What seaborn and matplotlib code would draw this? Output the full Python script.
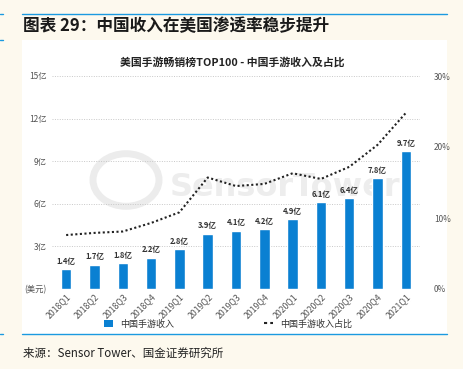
import numpy as np
import pandas as pd
import matplotlib
matplotlib.use("Agg")
import matplotlib.pyplot as plt
import seaborn as sns
from matplotlib.patches import Rectangle, Circle
from matplotlib.lines import Line2D

# -----------------------------
# DATA
# -----------------------------
quarters = ["2018Q1", "2018Q2", "2018Q3", "2018Q4", "2019Q1", "2019Q2", "2019Q3",
            "2019Q4", "2020Q1", "2020Q2", "2020Q3", "2020Q4", "2021Q1"]
revenue = [1.4, 1.7, 1.8, 2.2, 2.8, 3.9, 4.1, 4.2, 4.9, 6.1, 6.4, 7.8, 9.7]   # 亿美元
share = [7.6, 7.9, 8.1, 9.3, 10.8, 15.7, 14.5, 14.8, 16.3, 15.5, 17.2, 20.3, 24.8]  # %
left_ticks = [0, 3, 6, 9, 12, 15]
left_labels = ["(美元)", "3亿", "6亿", "9亿", "12亿", "15亿"]
right_ticks = [0, 10, 20, 30]

df = pd.DataFrame({"quarter": quarters, "revenue": revenue, "share": share})

# -----------------------------
# STYLE
# -----------------------------
sns.set_theme(style="white")
plt.rcParams["font.family"] = ["Noto Sans CJK SC", "DejaVu Sans"]

BG = "#fdf9ee"
BLUE = "#0a80d2"
LINE_BLUE = "#1b9ae0"

fig = plt.figure(figsize=(4.63, 3.69), dpi=100, facecolor=BG)

# white panel behind the chart
panel = Rectangle((22 / 463, 1 - 334 / 369), 425 / 463, 294 / 369,
                  transform=fig.transFigure, facecolor="white",
                  edgecolor="none", zorder=-5)
fig.patches.append(panel)
# blue rules
for y, x0, x1 in [(14, 22, 447), (14, 0, 3), (40, 0, 3), (334, 22, 447), (334, 0, 3)]:
    fig.add_artist(Line2D([x0 / 463, x1 / 463], [1 - y / 369, 1 - y / 369],
                          transform=fig.transFigure, color=LINE_BLUE, lw=1.0))

fig.text(23 / 463, 1 - 26 / 369, "图表 29：中国收入在美国渗透率稳步提升",
         fontsize=12, fontweight="bold", color="#1a1a1a",
         va="center", ha="left")
fig.text(23 / 463, 1 - 353 / 369, "来源：Sensor Tower、国金证券研究所",
         fontsize=8.3, color="#222222", va="center", ha="left")

ax = fig.add_axes([52 / 463, 1 - 289 / 369, 368 / 463, 213 / 369])
ax.set_facecolor("none")

# watermark
ax.add_patch(Circle((126 / 463, 1 - 180 / 369), 33 / 463, transform=fig.transFigure,
                    fill=False, lw=5, edgecolor="#ececec", zorder=0, clip_on=False))
ax.text(170 / 463, 1 - 188 / 369, "SensorTower", fontsize=23, fontweight="bold",
        color="#ededed", va="center", ha="left", zorder=0.5, family="DejaVu Sans",
        transform=fig.transFigure, clip_on=False)

sns.barplot(data=df, x="quarter", y="revenue", color=BLUE, width=0.37,
            saturation=1, ax=ax, zorder=3)
for i, v in enumerate(revenue):
    ax.text(i, v + 0.25, f"{v}亿", ha="center", va="bottom", fontsize=5.5,
            fontweight="bold", color="#333333", zorder=4)

ax.set_ylim(0, 15)
ax.set_xlim(-0.5, len(quarters) - 0.5)
ax.set_yticks(left_ticks)
ax.set_yticklabels(left_labels)
ax.yaxis.grid(True, linestyle=(0, (1, 1.5)), color="#c8c8c8", lw=0.7)
ax.set_axisbelow(True)
ax.set_xlabel("")
ax.set_ylabel("")
ax.tick_params(axis="y", labelsize=6, labelcolor="#555555", length=0, pad=4)
ax.tick_params(axis="x", labelsize=6.3, labelcolor="#555555", length=0, pad=2)
for lab in ax.get_xticklabels():
    lab.set_rotation(45)
    lab.set_ha("right")
    lab.set_rotation_mode("anchor")
for s in ax.spines.values():
    s.set_visible(False)

ax2 = ax.twinx()
sns.lineplot(x=np.arange(len(quarters)), y=share, ax=ax2, color="#222222",
             lw=1.5, linestyle=(0, (1, 1.2)), zorder=5)
ax2.set_ylim(0, 30)
ax2.set_yticks(right_ticks)
ax2.set_yticklabels([f"{t}%" for t in right_ticks])
ax2.tick_params(axis="y", labelsize=6, labelcolor="#555555", length=0, pad=10)
ax2.set_ylabel("")
for s in ax2.spines.values():
    s.set_visible(False)

fig.text(232 / 463, 1 - 62 / 369, "美国手游畅销榜TOP100 - 中国手游收入及占比",
         fontsize=7.8, fontweight="bold", color="#222222", ha="center", va="center")

# legend
handles = [Rectangle((0, 0), 1, 1, facecolor=BLUE, edgecolor="none"),
           Line2D([], [], color="#222222", lw=1.5, linestyle=(0, (1.5, 1.5)))]
fig.legend(handles, ["中国手游收入", "中国手游收入占比"], loc="center",
           bbox_to_anchor=(228 / 463, 1 - 324 / 369), ncol=2, frameon=False,
           fontsize=6.5, columnspacing=10, handlelength=1.0, handleheight=0.8,
           handletextpad=0.8, labelcolor="#333333")

fig.savefig("out.png", dpi=100, facecolor=BG)
